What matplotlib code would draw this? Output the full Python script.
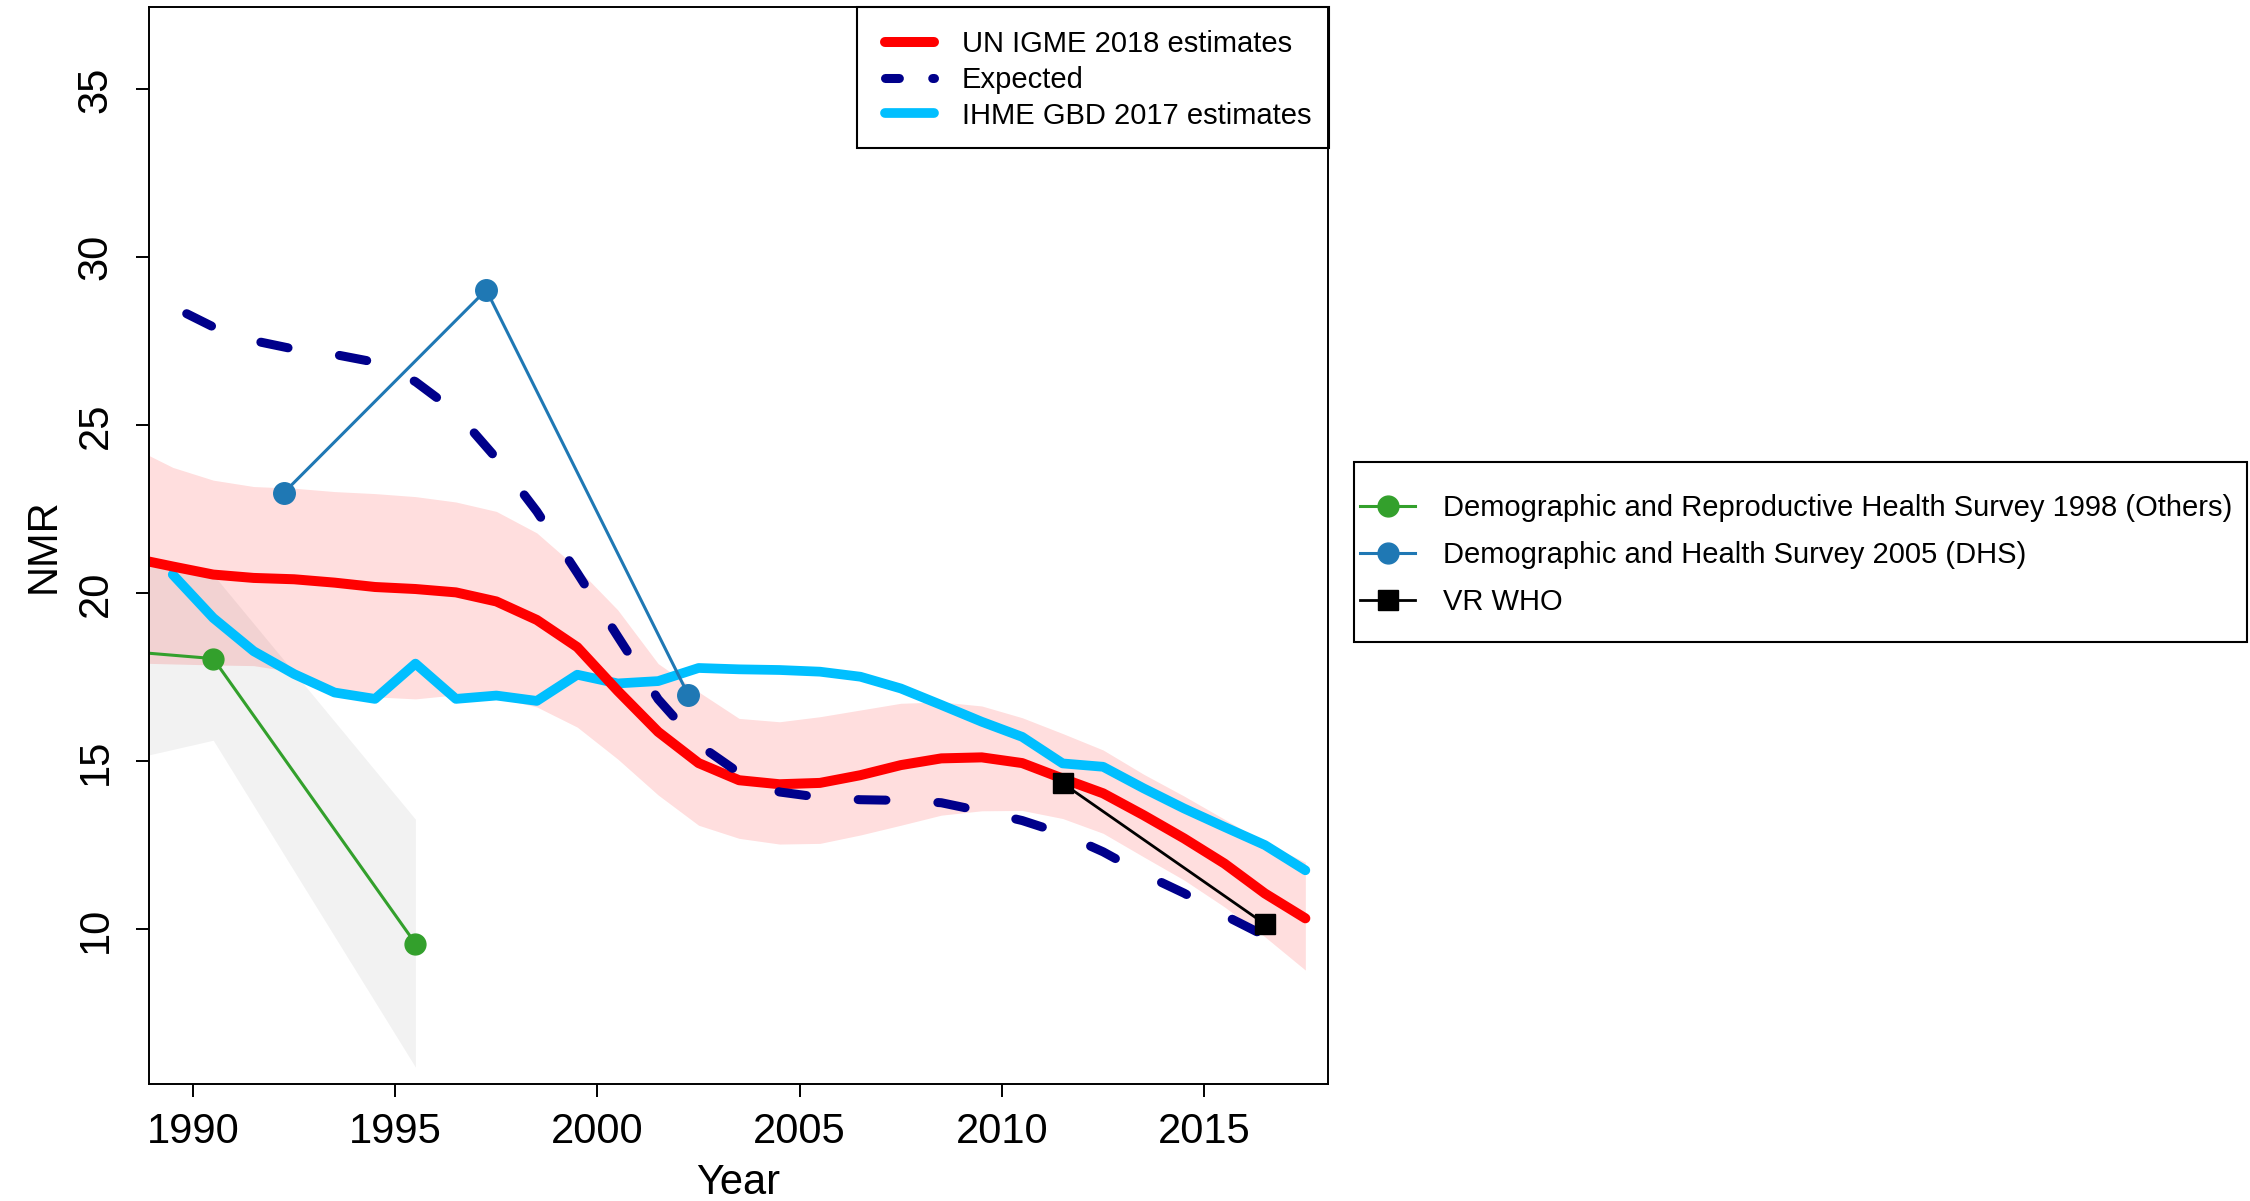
import matplotlib
matplotlib.use('Agg')
import matplotlib.pyplot as plt
from matplotlib.lines import Line2D
from matplotlib.patches import Rectangle

plt.rcParams['font.family'] = ['Liberation Sans', 'DejaVu Sans']
plt.rcParams['lines.scale_dashes'] = False

# UN IGME 2018 estimates (with uncertainty band)
igme_years = [1988.5 + i for i in range(30)]
igme_nmr = [21.05, 20.80, 20.56, 20.46, 20.42, 20.32, 20.19, 20.13, 20.03, 19.76,
            19.21, 18.40, 17.10, 15.88, 14.95, 14.44, 14.32, 14.36, 14.59, 14.89,
            15.09, 15.12, 14.95, 14.49, 14.05, 13.40, 12.71, 11.96, 11.07, 10.33]
igme_upper = [24.35, 23.75, 23.37, 23.18, 23.13, 23.03, 22.97, 22.88, 22.72, 22.44,
              21.80, 20.75, 19.51, 17.91, 17.07, 16.28, 16.18, 16.33, 16.53, 16.73,
              16.77, 16.65, 16.30, 15.83, 15.34, 14.62, 13.97, 13.28, 12.58, 12.00]
igme_lower = [17.93, 17.90, 17.87, 17.85, 17.66, 17.13, 16.92, 16.86, 16.98, 16.90,
              16.62, 16.02, 15.07, 14.00, 13.10, 12.71, 12.54, 12.56, 12.81, 13.10,
              13.40, 13.53, 13.54, 13.30, 12.86, 12.16, 11.47, 10.67, 9.78, 8.79]

# Expected
exp_years = [1989.5 + i for i in range(28)]
exp_nmr = [28.53, 27.93, 27.52, 27.27, 27.11, 26.88, 26.30, 25.40, 24.02, 22.44,
           20.61, 18.72, 16.85, 15.50, 14.66, 14.09, 13.93, 13.86, 13.84, 13.77,
           13.52, 13.24, 12.85, 12.31, 11.65, 11.08, 10.42, 9.81]

# IHME GBD 2017 estimates
ihme_years = [1989.5 + i for i in range(29)]
ihme_nmr = [20.56, 19.27, 18.28, 17.60, 17.05, 16.86, 17.91, 16.86, 16.96, 16.80,
            17.58, 17.32, 17.39, 17.78, 17.74, 17.72, 17.67, 17.52, 17.17, 16.68,
            16.18, 15.73, 14.94, 14.84, 14.20, 13.60, 13.05, 12.51, 11.76]

# Demographic and Reproductive Health Survey 1998 (Others)
drhs_years = [1988.5, 1990.5, 1995.5]
drhs_nmr = [18.26, 18.06, 9.58]
drhs_lower = [15.08, 15.63, 5.90]
drhs_upper = [21.00, 20.56, 13.28]

# Demographic and Health Survey 2005 (DHS)
dhs_years = [1992.25, 1997.25, 2002.25]
dhs_nmr = [23.00, 29.03, 16.97]

# VR WHO
vr_years = [2011.5, 2016.5]
vr_nmr = [14.35, 10.16]

red = '#FF0000'
navy = '#00008B'
cyan = '#00BFFF'
dhs_blue = '#1F78B4'
green = '#33A02C'

W, H = 2250, 1201
fig = plt.figure(figsize=(22.5, 12.01), dpi=100)
ax = fig.add_axes([149.3 / W, 1 - 1084 / H, (1328 - 149.3) / W, (1084 - 7) / H])

ax.fill_between(igme_years, igme_lower, igme_upper, color=red, alpha=0.13, lw=0)
ax.plot(ihme_years, ihme_nmr, color=cyan, lw=7.0, solid_capstyle='round',
        solid_joinstyle='round')
ax.plot(igme_years, igme_nmr, color=red, lw=7.2, solid_capstyle='round',
        solid_joinstyle='round')
ax.plot(exp_years, exp_nmr, color=navy, lw=6.5, dash_capstyle='round',
        linestyle=(46.2, (20.0, 37.4)))
ax.fill_between(drhs_years, drhs_lower, drhs_upper, color='black', alpha=0.05, lw=0)

ax.plot(drhs_years, drhs_nmr, color=green, lw=2.2, marker='o', ms=15)
ax.plot(dhs_years, dhs_nmr, color=dhs_blue, lw=2.2, marker='o', ms=15.5)
ax.plot(vr_years, vr_nmr, color='black', lw=2.0, marker='s', ms=14.5)

ax.set_xlim(1988.92, 2018.06)
ax.set_ylim(5.40, 37.45)
ax.set_xticks(range(1990, 2016, 5))
ax.set_yticks(range(10, 36, 5))
ax.set_yticklabels([str(v) for v in range(10, 36, 5)], rotation=90, va='center')
ax.tick_params(labelsize=30, length=9.1, width=1.4, direction='out')
ax.tick_params(axis='x', pad=11)
ax.tick_params(axis='y', pad=15)
for s in ax.spines.values():
    s.set_linewidth(1.4)

ax.set_xlabel('Year', fontsize=30)
ax.set_ylabel('NMR', fontsize=30)
ax.xaxis.label.set_va('center')
ax.yaxis.label.set_va('center')
ax.xaxis.set_label_coords(0.5, -(1183 - 1084) / 1077)
ax.yaxis.set_label_coords(-(149.3 - 44) / 1178.7, 0.5)

# legend 1 (upper right, inside axes)
h1 = [Line2D([], [], color=red, lw=7.2, solid_capstyle='round'),
      Line2D([], [], color=navy, lw=6.5, dash_capstyle='round',
             linestyle=(0, (10.0, 24.0))),
      Line2D([], [], color=cyan, lw=7.0, solid_capstyle='round')]
fig.legend(h1, ['UN IGME 2018 estimates', 'Expected', 'IHME GBD 2017 estimates'],
           loc='center left', bbox_to_anchor=(884.5 / W, 1 - 80 / H),
           frameon=False, fontsize=21, handlelength=1.7, handletextpad=0.95,
           labelspacing=0.26, borderpad=0, borderaxespad=0)
fig.add_artist(Rectangle((857 / W, 1 - 148 / H), (1329 - 857) / W, (148 - 7) / H,
                         transform=fig.transFigure, fill=False, lw=1.5,
                         edgecolor='black'))

# legend 2 (outside, right)
h2 = [Line2D([], [], color=green, lw=2.2, marker='o', ms=15),
      Line2D([], [], color=dhs_blue, lw=2.2, marker='o', ms=15),
      Line2D([], [], color='black', lw=2.0, marker='s', ms=14)]
fig.legend(h2, ['Demographic and Reproductive Health Survey 1998 (Others)',
                'Demographic and Health Survey 2005 (DHS)', 'VR WHO'],
           loc='center left', bbox_to_anchor=(1360 / W, 1 - 555 / H),
           frameon=False, fontsize=21, handlelength=1.9, handletextpad=0.96,
           labelspacing=0.65, borderpad=0, borderaxespad=0)
fig.add_artist(Rectangle((1354 / W, 1 - 642 / H), (2247 - 1354) / W, (642 - 462) / H,
                         transform=fig.transFigure, fill=False, lw=1.5,
                         edgecolor='black'))

fig.savefig('out.png', dpi=100)
